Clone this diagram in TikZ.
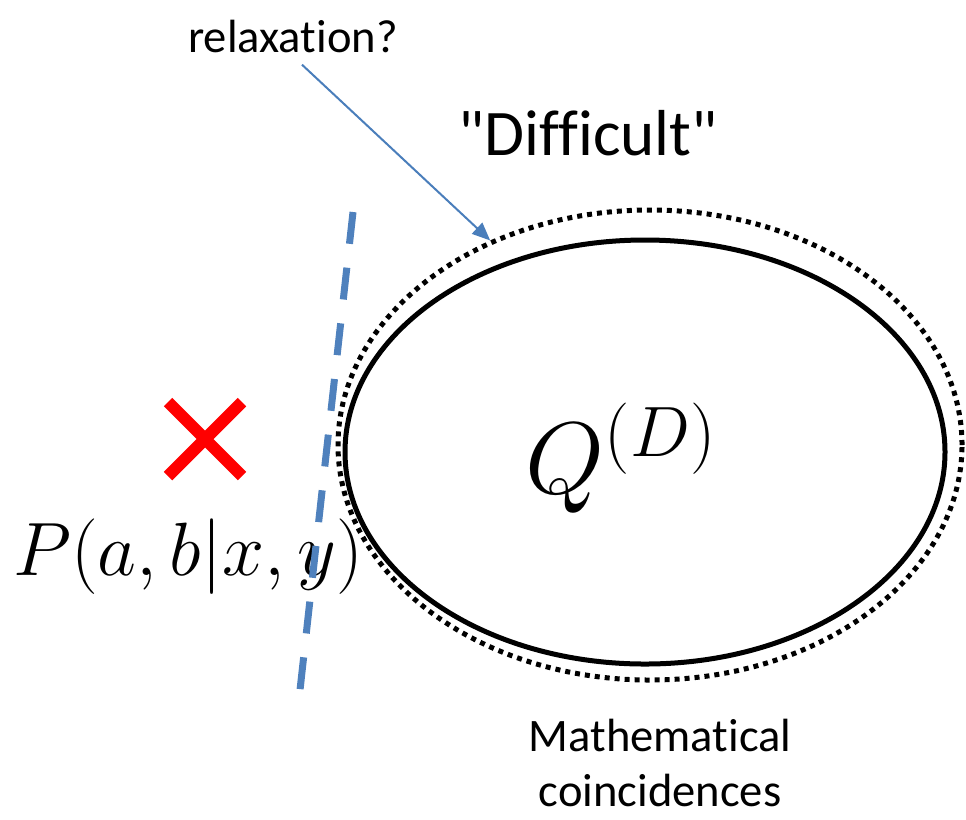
\RequirePackage{fix-cm}
\documentclass[tikz,border=0pt]{standalone}
\usepackage{fontspec}
\setmainfont{Carlito}[Ligatures={NoCommon}]
\usetikzlibrary{shapes.geometric, arrows.meta}
\definecolor{cutblue}{RGB}{79,129,189}
\definecolor{arrowblue}{RGB}{74,126,187}
\definecolor{crossred}{RGB}{255,0,0}

\begin{document}
\begin{tikzpicture}[
    x=0.2mm, y=-0.2mm,
    >={Triangle[length=3.6mm,width=3mm]},
    qset/.style={draw, ellipse, line width=1mm, inner sep=0pt},
    relaxset/.style={qset, dash pattern=on 1mm off 1mm},
    lbl/.style={font=\fontsize{26.5}{31}\selectfont, inner sep=0pt},
    biglbl/.style={font=\fontsize{37}{42}\selectfont, inner sep=0pt},
    mathlbl/.style={font=\fontsize{43}{50}\selectfont, inner sep=0pt},
    qlbl/.style={font=\fontsize{58}{68}\selectfont, inner sep=0pt},
    cutline/.style={draw=cutblue, line width=1.4mm, dash pattern=on 6.4mm off 4.8mm},
    relarrow/.style={->, draw=arrowblue, fill=arrowblue, line width=0.4mm},
    cross/.style={draw=crossred, line width=2.4mm},
]
\useasboundingbox (0,0) rectangle (966,819);

% ------------------------------------------------------------- the sets ---
\node[relaxset, minimum width=124.8mm, minimum height=94mm] (qdots) at (650,445) {};
\node[qset, minimum width=120mm, minimum height=84.8mm] (qset) at (645,452) {};
\node[qlbl, anchor=base] (qname) at (621,493) {$Q^{(D)}$};

% --------------------------------------------------------------- labels ---
\node[lbl, anchor=base] (relax) at (293,52) {relaxation?};
\node[biglbl, anchor=base] (hard) at (588,155) {\textquotedbl Difficult\textquotedbl};
\node[lbl, align=center] (coinc) at (660,763) {Mathematical\\coincidences};
\draw[relarrow] (relax.south) ++(9,12) -- (qdots.128);

% ---------------------------------------------------- the outside point ---
\draw[cross] (168,402) -- (242,476) (168,476) -- (242,402);
\node[mathlbl, anchor=base] (point) at (188,575) {$P(a,b|x,y)$};

% ---------------------------------------------------------- cut line ---
\draw[cutline] (353,212) -- (300,690);

\end{tikzpicture}
\end{document}
